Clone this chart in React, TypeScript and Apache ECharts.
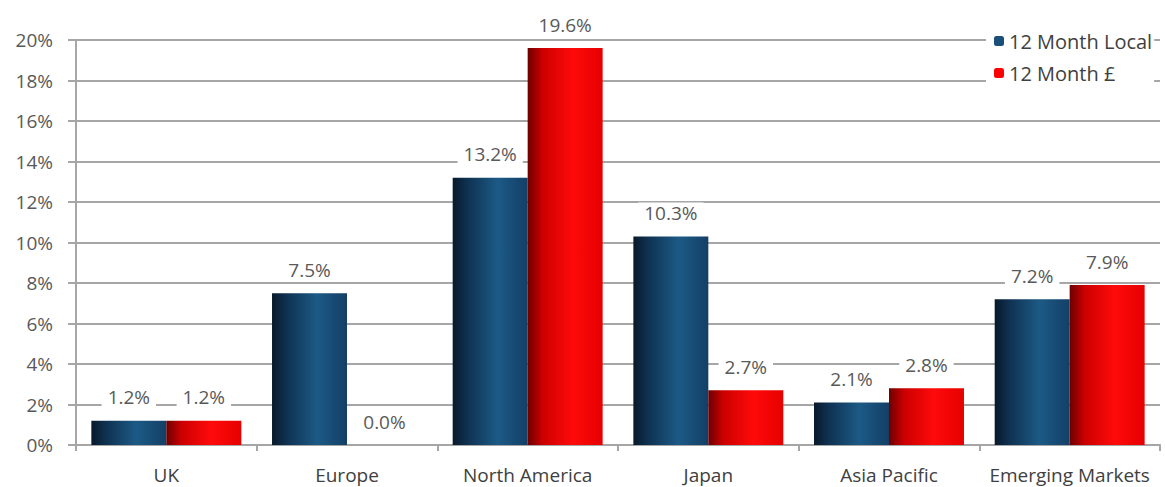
import React, { useEffect, useRef } from "react";
import * as echarts from "echarts";

const categories = ["UK", "Europe", "North America", "Japan", "Asia Pacific", "Emerging Markets"];
const local12 = [1.2, 7.5, 13.2, 10.3, 2.1, 7.2];
const gbp12 = [1.2, 0.0, 19.6, 2.7, 2.8, 7.9];
const seriesNames = ["12 Month Local", "12 Month £"];

const FONT = "'Open Sans', 'Noto Sans', sans-serif";

export default function App() {
  const ref = useRef<HTMLDivElement>(null);
  useEffect(() => {
    if (!ref.current) return;
    const chart = echarts.init(ref.current, undefined, { renderer: "svg" });
    const blueGrad = new echarts.graphic.LinearGradient(0, 0, 1, 0, [
      { offset: 0, color: "#08192a" },
      { offset: 0.2, color: "#0f3252" },
      { offset: 0.6, color: "#1c5a86" },
      { offset: 1, color: "#133f66" },
    ]);
    const redGrad = new echarts.graphic.LinearGradient(0, 0, 1, 0, [
      { offset: 0, color: "#6e0000" },
      { offset: 0.2, color: "#cc0000" },
      { offset: 0.6, color: "#ff0a0a" },
      { offset: 1, color: "#e60000" },
    ]);
    const label = {
      show: true,
      position: "top" as const,
      distance: 13,
      formatter: (p: any) => `${Number(p.value).toFixed(1)}%`,
      color: "#595959",
      fontSize: 19,
      fontFamily: FONT,
      backgroundColor: "#ffffff",
      padding: [1, 6],
    };
    chart.setOption({
      animation: false,
      backgroundColor: "#ffffff",
      textStyle: { fontFamily: FONT },
      grid: { left: 76, right: 5, top: 40, bottom: 42, containLabel: false },
      legend: {
        orient: "vertical",
        left: 986,
        top: 27,
        itemWidth: 10,
        itemHeight: 10,
        itemGap: 12,
        backgroundColor: "#ffffff",
        padding: [4, 2, 4, 8],
        textStyle: { color: "#404040", fontSize: 20, fontFamily: FONT },
        data: [
          { name: seriesNames[0], itemStyle: { color: "#1a4f7a" } },
          { name: seriesNames[1], itemStyle: { color: "#ff0000" } },
        ],
      },
      xAxis: {
        type: "category",
        data: categories,
        axisLine: { lineStyle: { color: "#a6a6a6", width: 2 } },
        axisTick: { show: true, length: 6, lineStyle: { color: "#a6a6a6", width: 2 } },
        axisLabel: { interval: 0, color: "#404040", fontSize: 19, fontFamily: FONT, margin: 20 },
      },
      yAxis: {
        type: "value",
        min: 0,
        max: 20,
        interval: 2,
        axisLine: { show: true, lineStyle: { color: "#a6a6a6", width: 2 } },
        axisTick: { show: true, length: 8, lineStyle: { color: "#a6a6a6", width: 2 } },
        axisLabel: { formatter: "{value}%", color: "#595959", fontSize: 19, fontFamily: FONT, margin: 23 },
        splitLine: { lineStyle: { color: "#a6a6a6", width: 2 } },
      },
      series: [
        {
          name: seriesNames[0],
          type: "bar",
          data: local12,
          barGap: "0%",
          barCategoryGap: "17%",
          itemStyle: { color: blueGrad },
          label,
        },
        {
          name: seriesNames[1],
          type: "bar",
          data: gbp12,
          barGap: "0%",
          barCategoryGap: "17%",
          itemStyle: { color: redGrad },
          label,
        },
      ],
    });
    return () => chart.dispose();
  }, []);
  return <div ref={ref} style={{ width: 1165, height: 487, position: "absolute", left: 0, top: 0 }} />;
}
